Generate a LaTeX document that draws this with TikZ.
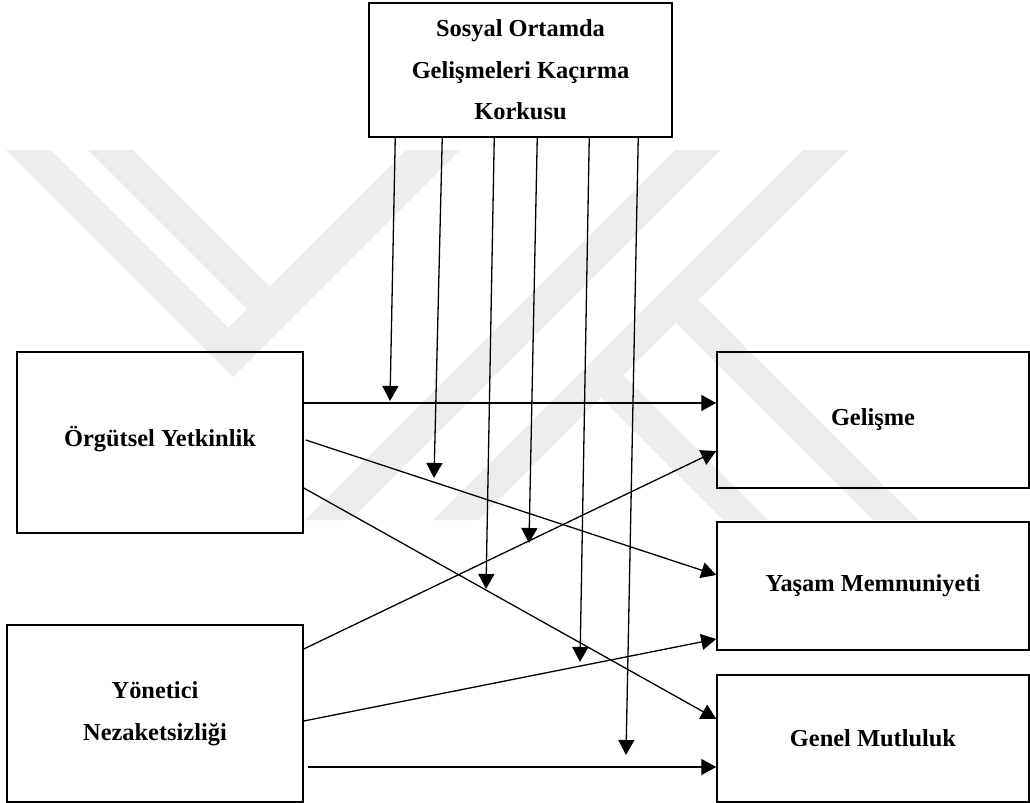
\documentclass[tikz,border=0pt]{standalone}
\usepackage{fontspec}
\setmainfont{Liberation Serif}
\usetikzlibrary{arrows.meta,calc}
\begin{document}
\begin{tikzpicture}[x=1bp,y=-1bp,
  box/.style={draw, line width=1.5bp, inner sep=0pt, align=center,
    font=\bfseries\fontsize{24.4bp}{41.5bp}\selectfont},
  arr/.style={line width=1.3bp, -{Triangle[length=15bp,width=16bp]}},
  wm/.style={fill=black!7, draw=none}]
\useasboundingbox (0,0) rectangle (1030,803);
% faint watermark
\fill[wm] (6,150) -- (51,150) -- (228.5,327.5) -- (406,150) -- (460,150) -- (233,377) -- cycle;
\fill[wm] (88,150) -- (133,150) -- (269.5,286.5) -- (247,309) -- cycle;
\fill[wm] (305,520) -- (350,520) -- (720,150) -- (675,150) -- cycle;
\fill[wm] (433,520) -- (478,520) -- (848,150) -- (803,150) -- cycle;
\fill[wm] (675.5,322.5) -- (698,300) -- (918,520) -- (873,520) -- cycle;
\fill[wm] (600.5,397.5) -- (623,375) -- (768,520) -- (723,520) -- cycle;
% boxes
\node[box, minimum width=303bp, minimum height=134bp] (top) at (520.5,70) {Sosyal Ortamda\\Gelişmeleri Kaçırma\\Korkusu};
\node[box, minimum width=286bp, minimum height=181bp] (ory) at (160,442.5) {\raisebox{12bp}{Örgütsel Yetkinlik}};
\node[box, minimum width=296bp, minimum height=177bp] (yon) at (155,713.5) {Yönetici\\Nezaketsizliği};
\node[box, minimum width=312bp, minimum height=136bp] (gel) at (873,420) {Gelişme};
\node[box, minimum width=312bp, minimum height=128bp] (yas) at (873,586) {Yaşam Memnuniyeti};
\node[box, minimum width=312bp, minimum height=127bp] (gen) at (873,738.5) {Genel Mutluluk};
% moderator arrow ends
\coordinate (m1) at (390,401);
\coordinate (m2) at (434,478);
\coordinate (m3) at (486,589);
\coordinate (m4) at (529,543);
\coordinate (m5) at (580,662);
\coordinate (m6) at (626,755);
\draw[arr] ([xshift=27bp]top.south west) -- (m1);
\draw[arr] ([xshift=74bp]top.south west) -- (m2);
\draw[arr] ([xshift=126bp]top.south west) -- (m3);
\draw[arr] ([xshift=169bp]top.south west) -- (m4);
\draw[arr] ([xshift=221bp]top.south west) -- (m5);
\draw[arr] ([xshift=270bp]top.south west) -- (m6);
% main paths
\draw[arr] (ory.east |- 0,403) -- (gel.west |- 0,403);
\draw[arr] ([xshift=2bp]ory.east |- 0,440) -- (yas.west |- 0,575);
\draw[arr] (ory.east |- 0,488) -- (gen.west |- 0,719);
\draw[arr] (yon.east |- 0,649) -- (gel.west |- 0,451);
\draw[arr] (yon.east |- 0,721) -- (yas.west |- 0,639);
\draw[arr] ([xshift=4bp]yon.east |- 0,767) -- (gen.west |- 0,767);
\end{tikzpicture}
\end{document}
